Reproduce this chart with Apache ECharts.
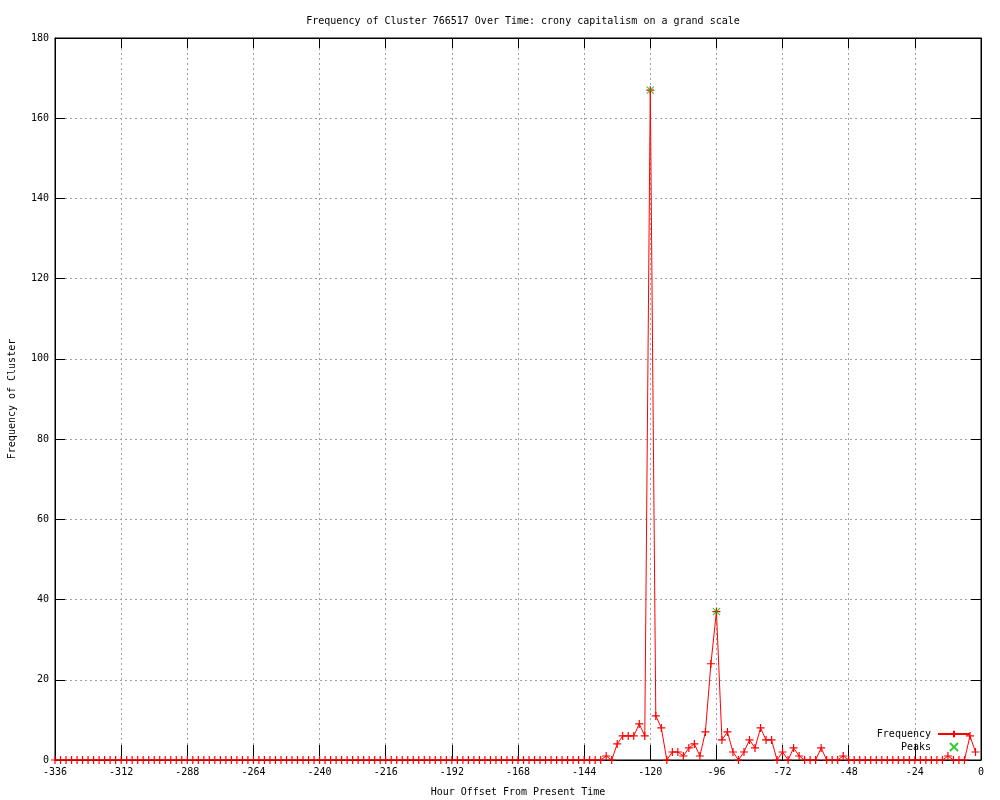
<!DOCTYPE html>
<html>
<head>
<meta charset="utf-8">
<script src="https://cdn.jsdelivr.net/npm/echarts@6/dist/echarts.min.js"></script>
<style>html,body{margin:0;padding:0;background:#fff}#c{width:1000px;height:800px}</style>
</head>
<body>
<div id="c"></div>
<script>
var titleText = "Frequency of Cluster 766517 Over Time: crony capitalism on a grand scale";
var xAxisName = "Hour Offset From Present Time";
var yAxisName = "Frequency of Cluster";
var startHour = -336;
var stepHours = 2;
// frequency values, one every 2 hours from -336 to -2
var frequency = [
  0,0,0,0,0,0,0,0,0,0, 0,0,0,0,0,0,0,0,0,0,
  0,0,0,0,0,0,0,0,0,0, 0,0,0,0,0,0,0,0,0,0,
  0,0,0,0,0,0,0,0,0,0, 0,0,0,0,0,0,0,0,0,0,
  0,0,0,0,0,0,0,0,0,0, 0,0,0,0,0,0,0,0,0,0,
  0,0,0,0,0,0,0,0,0,0, 0,0,0,0,0,0,0,0,0,0,
  1,0,4,6,6,6,9,6,167,11,
  8,0,2,2,1,3,4,1,7,24,
  37,5,7,2,0,2,5,3,8,5,
  5,0,2,0,3,1,0,0,0,3,
  0,0,0,1,
  0,0,0,0,0,0,0,0,0,0,0,0,0,0,0,0,0,0,
  1,0,0,0,6,2
];
var peakHours = [-120, -96];
var peakValues = [167, 37];
var xTicks = {min: -336, max: 0, interval: 24};
var yTicks = {min: 0, max: 180, interval: 20};

var freqData = frequency.map(function(v, i){ return [startHour + i*stepHours, v]; });
var peakData = peakHours.map(function(h, i){ return [h, peakValues[i]]; });

var FONT = "'DejaVu Sans Mono', monospace";
var chart = echarts.init(document.getElementById('c'), null, {renderer: 'canvas'});
var gridLine = {show: true, lineStyle: {color: '#a0a0a0', type: [2, 3], width: 1}};
var plus = 'path://M0,5L10,5M5,0L5,10';
var cross = 'path://M0,0L10,10M10,0L0,10';
chart.setOption({
  animation: false,
  backgroundColor: '#fff',
  title: {
    text: titleText, left: 518, top: 11, textAlign: 'center',
    textStyle: {fontFamily: FONT, fontSize: 10, fontWeight: 'normal', color: '#000'}
  },
  grid: {left: 55, right: 19, top: 38, bottom: 40, show: true, borderColor: '#000', borderWidth: 1,
         containLabel: false, outerBoundsMode: 'none'},
  legend: {
    orient: 'vertical', right: 24, top: 724, align: 'right',
    itemWidth: 32, itemHeight: 8, itemGap: 3,
    textStyle: {fontFamily: FONT, fontSize: 10, color: '#000', padding: [0, 2, 0, 0]},
    data: ['Frequency', 'Peaks']
  },
  xAxis: [{
    type: 'value', min: xTicks.min, max: xTicks.max, interval: xTicks.interval,
    name: xAxisName, nameLocation: 'middle', nameGap: 27,
    nameTextStyle: {fontFamily: FONT, fontSize: 10, color: '#000'},
    axisLine: {show: true, onZero: false, lineStyle: {color: '#000'}},
    axisTick: {show: true, inside: true, length: 15, lineStyle: {color: '#000'}},
    axisLabel: {fontFamily: FONT, fontSize: 10, color: '#000', margin: 7},
    splitLine: gridLine
  }, {
    type: 'value', position: 'top', min: xTicks.min, max: xTicks.max, interval: xTicks.interval,
    axisLine: {show: true, onZero: false, lineStyle: {color: '#000'}},
    axisTick: {show: true, inside: true, length: 10, lineStyle: {color: '#000'}},
    axisLabel: {show: false}, splitLine: {show: false}
  }],
  yAxis: [{
    type: 'value', position: 'left', min: yTicks.min, max: yTicks.max, interval: yTicks.interval,
    name: yAxisName, nameLocation: 'middle', nameGap: 38, nameRotate: 90,
    nameTextStyle: {fontFamily: FONT, fontSize: 10, color: '#000'},
    axisLine: {show: true, onZero: false, lineStyle: {color: '#000'}},
    axisTick: {show: true, inside: true, length: 10, lineStyle: {color: '#000'}},
    axisLabel: {fontFamily: FONT, fontSize: 10, color: '#000', margin: 6},
    splitLine: gridLine
  }, {
    type: 'value', position: 'right', min: yTicks.min, max: yTicks.max, interval: yTicks.interval,
    axisLine: {show: true, onZero: false, lineStyle: {color: '#000'}},
    axisTick: {show: true, inside: true, length: 10, lineStyle: {color: '#000'}},
    axisLabel: {show: false}, splitLine: {show: false}
  }],
  series: [{
    name: 'Frequency', type: 'line', data: freqData,
    xAxisIndex: 0, yAxisIndex: 0,
    symbol: plus, symbolSize: 8, showAllSymbol: true,
    lineStyle: {color: '#ff0000', width: 1},
    itemStyle: {color: '#ff0000', borderColor: '#ff0000', borderWidth: 1.2},
    emphasis: {disabled: true}
  }, {
    name: 'Peaks', type: 'scatter', data: peakData,
    xAxisIndex: 0, yAxisIndex: 0,
    symbol: cross, symbolSize: 7,
    itemStyle: {color: '#00c000', borderColor: '#00c000', borderWidth: 1.2},
    emphasis: {disabled: true}, z: 5
  }]
});
</script>
</body>
</html>
